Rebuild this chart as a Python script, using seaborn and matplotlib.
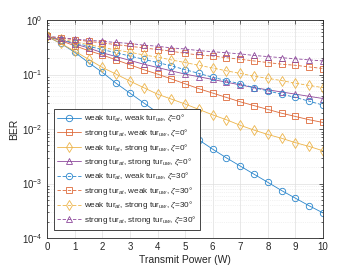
import matplotlib
matplotlib.use("Agg")
import matplotlib.pyplot as plt
import seaborn as sns
import numpy as np
from matplotlib.ticker import LogLocator, NullFormatter, FixedLocator

sns.set_theme(style="white")
plt.rcParams['font.family'] = ['Liberation Sans', 'DejaVu Sans']
plt.rcParams['mathtext.fontset'] = 'custom'
plt.rcParams['mathtext.rm'] = 'Liberation Sans'
plt.rcParams['mathtext.it'] = 'Liberation Sans:italic'

power = [0, 0.5, 1, 1.5, 2, 2.5, 3, 3.5, 4, 4.5, 5, 5.5, 6, 6.5, 7, 7.5, 8, 8.5, 9, 9.5, 10]

ww0 = [0.50, 0.372, 0.257, 0.166, 0.110, 0.0692, 0.0457, 0.0302, 0.0200, 0.0135, 0.00912,
       0.00631, 0.00427, 0.00295, 0.00209, 0.00148, 0.00105, 0.000741, 0.000537, 0.000389, 0.000288]
sw0 = [0.50, 0.417, 0.339, 0.275, 0.229, 0.186, 0.151, 0.123, 0.102, 0.0832, 0.0676,
       0.0550, 0.0457, 0.0380, 0.0316, 0.0269, 0.0229, 0.0195, 0.0170, 0.0148, 0.0132]
ws0 = [0.50, 0.372, 0.269, 0.191, 0.135, 0.102, 0.0759, 0.0575, 0.0437, 0.0355, 0.0288,
       0.0229, 0.0182, 0.0148, 0.0117, 0.00955, 0.00794, 0.00676, 0.00562, 0.00479, 0.00398]
ss0 = [0.50, 0.437, 0.363, 0.309, 0.251, 0.214, 0.182, 0.155, 0.135, 0.117, 0.102,
       0.0912, 0.0813, 0.0724, 0.0646, 0.0575, 0.0525, 0.0479, 0.0437, 0.0398, 0.0363]
ww30 = [0.50, 0.437, 0.380, 0.331, 0.288, 0.251, 0.219, 0.191, 0.166, 0.145, 0.123,
        0.105, 0.0891, 0.0776, 0.0676, 0.0575, 0.0501, 0.0437, 0.0380, 0.0324, 0.0275]
sw30 = [0.50, 0.468, 0.437, 0.407, 0.380, 0.355, 0.331, 0.309, 0.288, 0.269, 0.245,
        0.229, 0.219, 0.204, 0.191, 0.178, 0.166, 0.155, 0.148, 0.138, 0.129]
ws30 = [0.50, 0.447, 0.398, 0.355, 0.316, 0.282, 0.257, 0.229, 0.209, 0.186, 0.166,
        0.148, 0.132, 0.117, 0.105, 0.0933, 0.0851, 0.0776, 0.0692, 0.0631, 0.0575]
ss30 = [0.50, 0.479, 0.447, 0.427, 0.407, 0.389, 0.372, 0.347, 0.331, 0.309, 0.295,
        0.275, 0.263, 0.251, 0.240, 0.224, 0.214, 0.204, 0.195, 0.186, 0.178]

labels = [
    r"weak tur$_{at}$, weak tur$_{uw}$, $\zeta$=0°",
    r"strong tur$_{at}$, weak tur$_{uw}$, $\zeta$=0°",
    r"weak tur$_{at}$, strong tur$_{uw}$, $\zeta$=0°",
    r"strong tur$_{at}$, strong tur$_{uw}$, $\zeta$=0°",
    r"weak tur$_{at}$, weak tur$_{uw}$, $\zeta$=30°",
    r"strong tur$_{at}$, weak tur$_{uw}$, $\zeta$=30°",
    r"weak tur$_{at}$, strong tur$_{uw}$, $\zeta$=30°",
    r"strong tur$_{at}$, strong tur$_{uw}$, $\zeta$=30°",
]
series = [ww0, sw0, ws0, ss0, ww30, sw30, ws30, ss30]
colors = ['#2A86CC', '#DE6A3A', '#EDB44A', '#8E4A9C'] * 2
markers = ['o', 's', 'd', '^'] * 2
styles = ['-'] * 4 + ['--'] * 4

fig = plt.figure(figsize=(3.57, 2.68), dpi=100)
ax = fig.add_axes([0.132, 0.112, 0.773, 0.813])

for s, lab, c, m, ls in zip(series, labels, colors, markers, styles):
    sns.lineplot(x=power, y=s, ax=ax, color=c, marker=m,
                 markerfacecolor='none', markeredgecolor=c, markeredgewidth=0.6,
                 markersize=4.6, linewidth=0.6, label=lab)
    ax.lines[-1].set_linestyle(ls)
    if ls == '--':
        ax.lines[-1].set_dashes([4, 2.2])

ax.set_yscale('log')
ax.set_xlim(0, 10)
ax.set_ylim(1e-4, 1)
ax.xaxis.set_major_locator(FixedLocator(range(0, 11)))
ax.yaxis.set_major_locator(LogLocator(base=10, numticks=10))
ax.yaxis.set_minor_locator(LogLocator(base=10, subs=np.arange(2, 10), numticks=20))
ax.yaxis.set_minor_formatter(NullFormatter())

ax.grid(True, which='major', color='#DFDFDF', linewidth=0.5, linestyle='-')
ax.grid(True, which='minor', axis='y', color='#E6E6E6', linewidth=0.5, linestyle=':')
ax.set_axisbelow(True)

for sp in ax.spines.values():
    sp.set_color('#262626')
    sp.set_linewidth(0.6)
    sp.set_visible(True)
ax.tick_params(which='both', direction='in', top=True, right=True, colors='#262626',
               labelsize=7, width=0.5)
ax.tick_params(which='major', length=3)
ax.tick_params(which='minor', length=1.5, left=True, right=True)
ax.tick_params(axis='x', pad=3)

ax.set_xlabel('Transmit Power (W)', fontsize=7.5, color='#262626', labelpad=2)
ax.set_ylabel('BER', fontsize=7.5, color='#262626', labelpad=2)

leg = ax.legend(loc='lower left', bbox_to_anchor=(0.018, 0.03), fontsize=5.9,
                handlelength=2.9, handletextpad=0.35, labelspacing=0.32,
                borderpad=0.45, borderaxespad=0.2, frameon=True, fancybox=False, framealpha=1)
leg.get_frame().set_edgecolor('#262626')
leg.get_frame().set_linewidth(0.6)

fig.savefig('out.png', dpi=100)
